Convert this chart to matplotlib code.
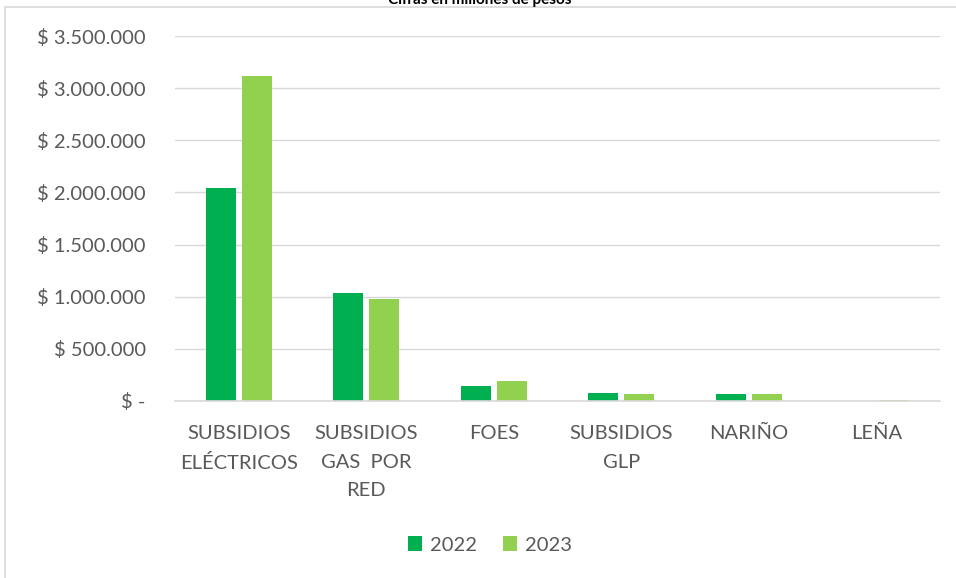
import matplotlib
matplotlib.use("Agg")
import matplotlib.pyplot as plt
import numpy as np
from matplotlib.patches import Rectangle
from matplotlib.ticker import FuncFormatter, MultipleLocator

# Cifras en millones de pesos
categorias = ["SUBSIDIOS\nELÉCTRICOS", "SUBSIDIOS\nGAS  POR\nRED", "FOES",
              "SUBSIDIOS\nGLP", "NARIÑO", "LEÑA"]
valores_2022 = [2040000, 1040000, 144000, 80000, 67000, 3000]
valores_2023 = [3116000, 980000, 192000, 70000, 67000, 5000]
anios = ["2022", "2023"]

VERDE_OSC = "#00B050"
VERDE_CLA = "#92D050"
GRIS_TXT = "#595959"

plt.rcParams["font.family"] = ["Lato", "DejaVu Sans"]

fig = plt.figure(figsize=(9.56, 5.78), dpi=100)
# marco del área del gráfico (recortado a la derecha y abajo)
fig.patches.append(Rectangle((5 / 956, -0.05), 1.1, 1 - 7 / 578 + 0.05,
                             transform=fig.transFigure, fill=False,
                             edgecolor="#d9d9d9", linewidth=1.2))

ax = fig.add_axes([175 / 956, 1 - 401 / 578, 765 / 956, 365 / 578])

x = np.arange(len(categorias))
ancho = 0.235
sep = 0.047
ax.bar(x - (ancho + sep) / 2, valores_2022, ancho, color=VERDE_OSC, label=anios[0])
ax.bar(x + (ancho + sep) / 2, valores_2023, ancho, color=VERDE_CLA, label=anios[1])

ax.set_xlim(-0.5, len(categorias) - 0.5)
ax.set_ylim(0, 3500000)
ax.yaxis.set_major_locator(MultipleLocator(500000))


def pesos(v, pos):
    if v == 0:
        return "$ -"
    return "$ " + f"{int(v):,}".replace(",", ".")


ax.yaxis.set_major_formatter(FuncFormatter(pesos))
ax.grid(axis="y", color="#d9d9d9", linewidth=1)
ax.set_axisbelow(True)
for s in ["top", "right", "left"]:
    ax.spines[s].set_visible(False)
ax.spines["bottom"].set_color("#d9d9d9")
ax.spines["bottom"].set_linewidth(1.2)

ax.set_xticks(x)
ax.set_xticklabels(categorias, linespacing=1.85)
ax.tick_params(axis="both", length=0, colors=GRIS_TXT, labelsize=14.5)
ax.tick_params(axis="y", pad=21)
ax.tick_params(axis="x", pad=17)

fig.legend(loc="center", bbox_to_anchor=(490 / 956, 1 - 545 / 578), ncol=2,
           frameon=False, fontsize=14.5, labelcolor=GRIS_TXT,
           handlelength=0.7, handleheight=0.7, handletextpad=0.4,
           columnspacing=1.3)

fig.text(480 / 956, 1.0, "Cifras en millones de pesos", ha="center", va="center",
         fontsize=11, fontweight="bold", color="black")

fig.savefig("out.png", dpi=100)
